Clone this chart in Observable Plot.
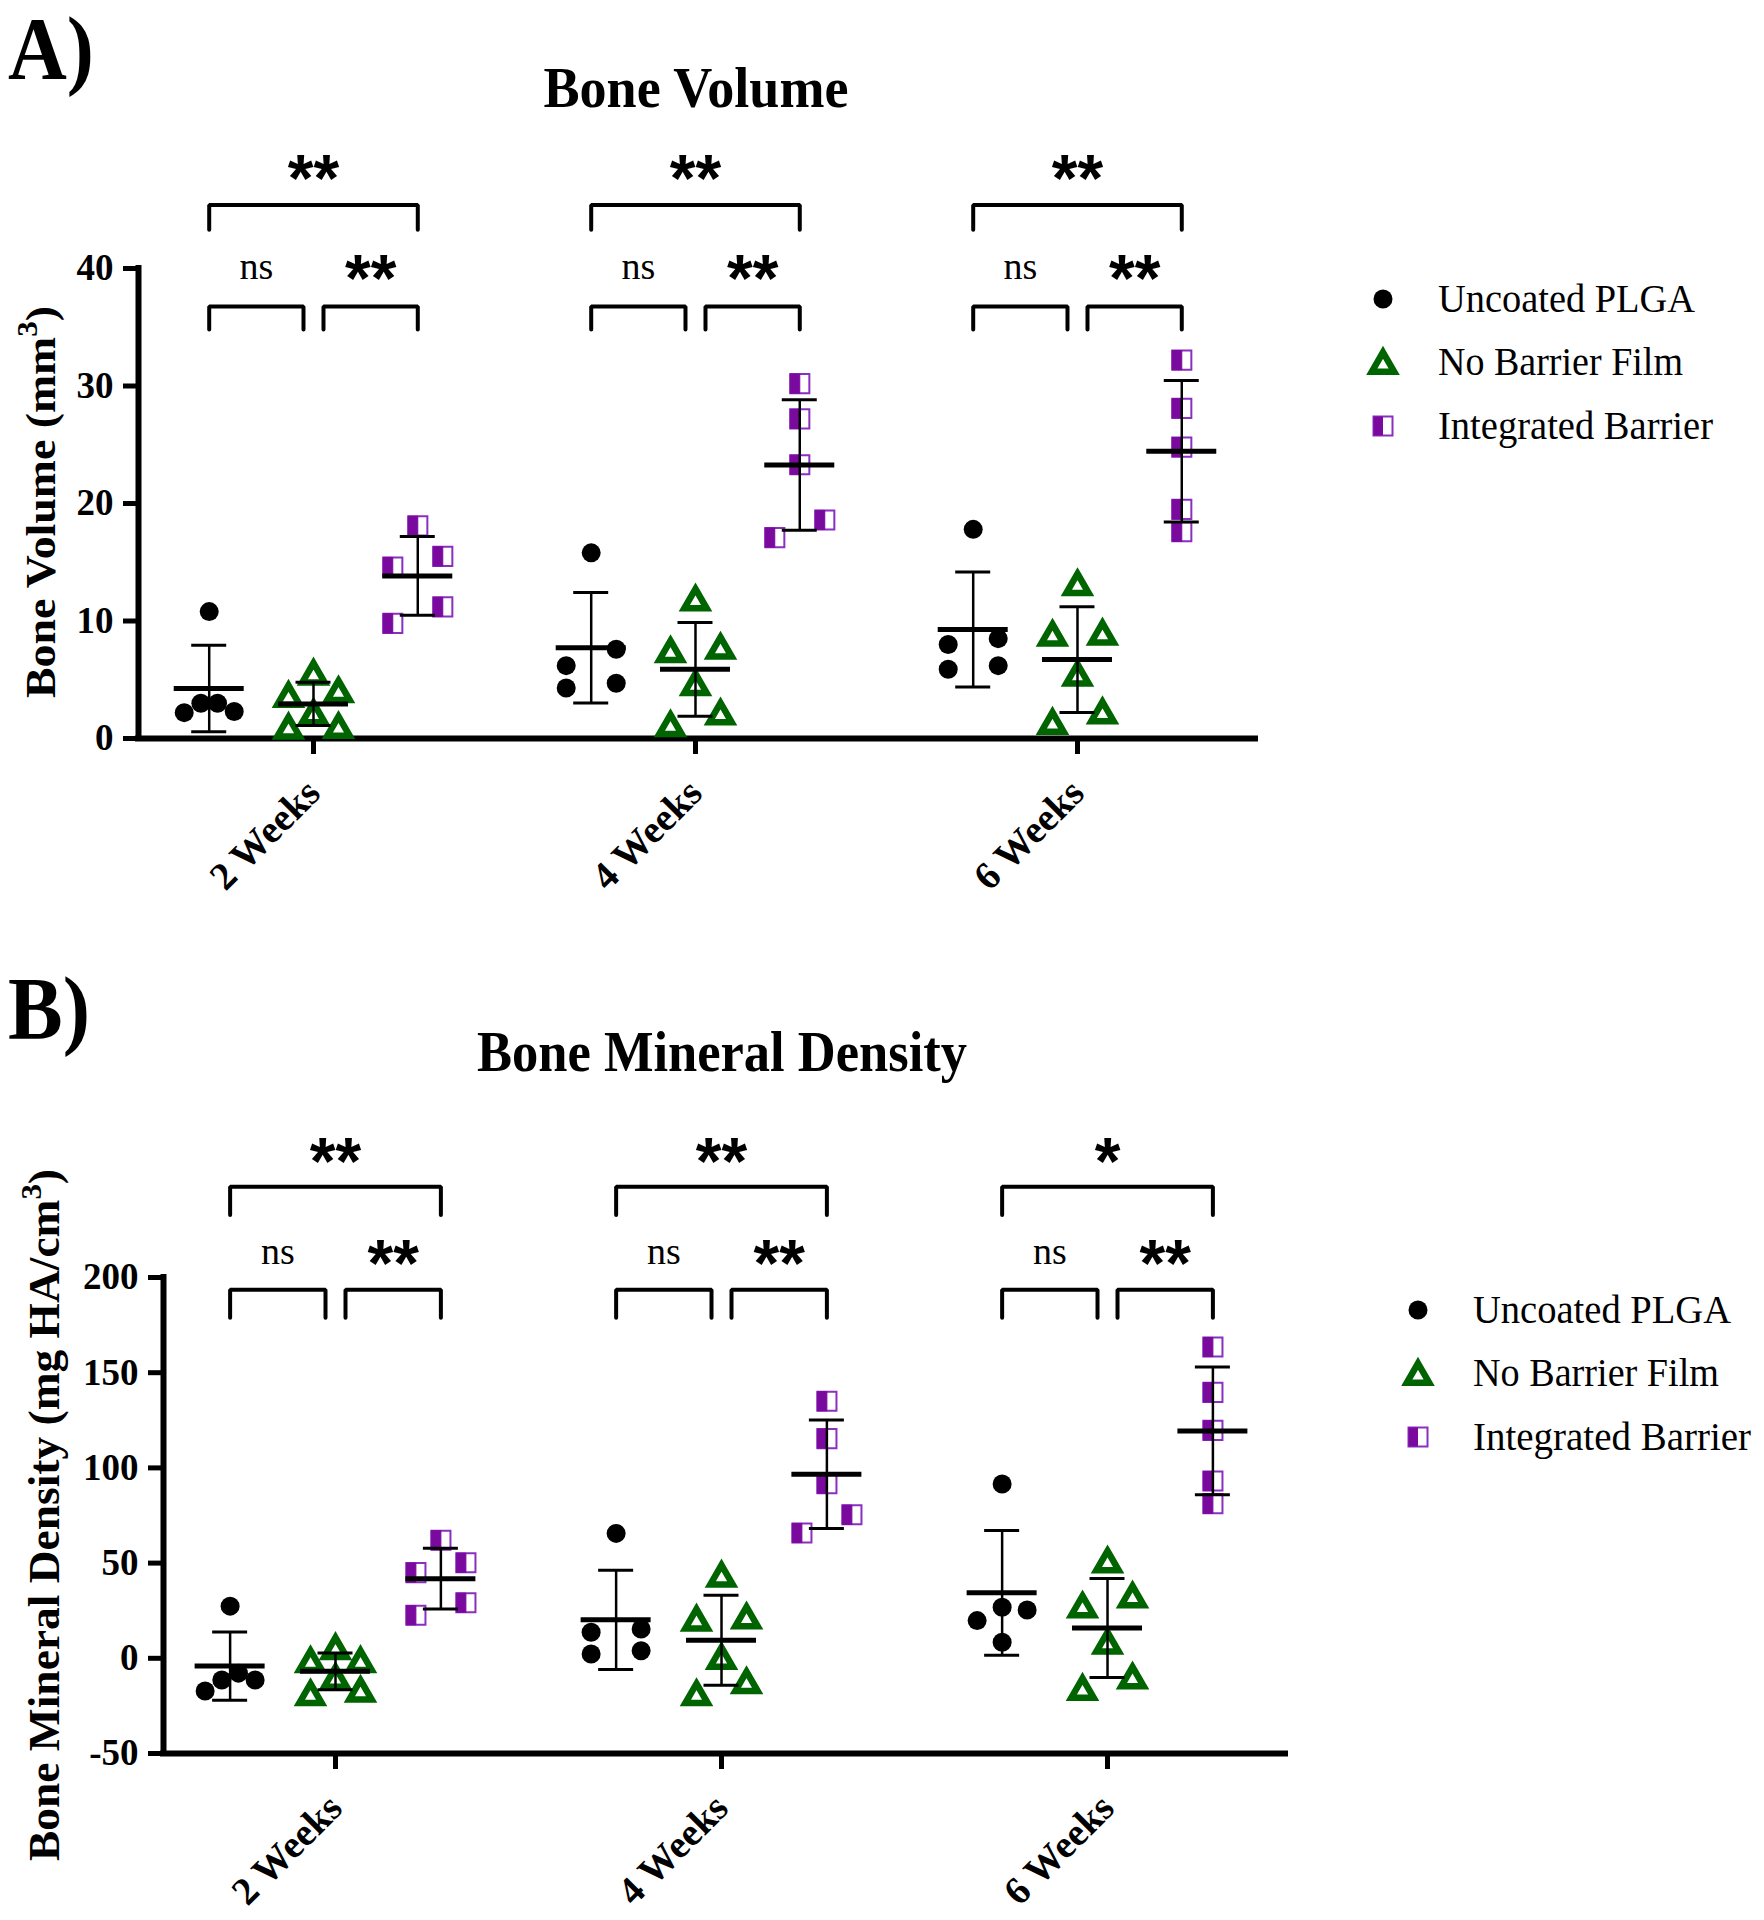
<!DOCTYPE html>
<html><head><meta charset="utf-8">
<script src="https://cdn.jsdelivr.net/npm/d3@7"></script>
<script src="https://cdn.jsdelivr.net/npm/@observablehq/plot@0.6"></script>
<style>
body{margin:0;background:#fff;}
#root{position:relative;width:1764px;height:1920px;overflow:hidden;background:#fff;}
#root svg{position:absolute;left:0;}
</style></head><body><div id="root"></div>
<script>
// ---------- data ----------
const weeks = ["2 Weeks", "4 Weeks", "6 Weeks"];
const groups = ["Uncoated PLGA", "No Barrier Film", "Integrated Barrier"];
const groupColors = ["#000000", "#006400", "#7A0A9E"];

// Bone Volume (mm3): one list per week
const bvUncoated   = [[10.8, 2.2, 3.0, 2.3, 3.0], [15.8, 7.6, 6.2, 4.3, 4.7], [17.8, 8.5, 8.0, 5.9, 6.2]];
const bvNoBarrier  = [[1.0, 4.1, 2.2, 5.6, 3.7, 1.05], [11.9, 7.8, 7.5, 4.7, 1.2, 2.2], [13.2, 9.0, 8.9, 5.5, 1.4, 2.3]];
const bvIntegrated = [[18.1, 14.6, 15.5, 11.2, 9.8], [30.2, 27.2, 23.3, 17.1, 18.6], [32.2, 28.1, 24.8, 19.5, 17.6]];

// Bone Mineral Density (mg HA/cm3)
const bmdUncoated   = [[27.4, -7.8, -17.2, -11.4, -11.4], [65.6, 13.7, 15.4, 2.3, 4.0], [91.5, 26.8, 25.4, 19.8, 8.4]];
const bmdNoBarrier  = [[-1.0, 5.8, -1.1, -9.8, -18.4, -16.6], [43.9, 21.9, 20.8, 0.7, -18.4, -12.1], [51.3, 32.9, 27.7, 8.6, -15.6, -9.6]];
const bmdIntegrated = [[62.0, 45.0, 50.2, 29.2, 22.6], [135.0, 115.4, 91.7, 75.4, 65.8], [163.5, 139.7, 119.7, 93.1, 81.2]];

// significance per week: [Uncoated vs Integrated, Uncoated vs No Barrier, No Barrier vs Integrated]
const bvStars  = [["**", "ns", "**"], ["**", "ns", "**"], ["**", "ns", "**"]];
const bmdStars = [["**", "ns", "**"], ["**", "ns", "**"], ["*", "ns", "**"]];

const bvTicks  = [0, 10, 20, 30, 40];
const bmdTicks = [-50, 0, 50, 100, 150, 200];

// ---------- helpers ----------
const SERIF = "Liberation Serif";
const halfSquare = {
  draw(ctx, size) {
    const w = Math.sqrt(size) / 2;
    ctx.moveTo(-w, -w); ctx.lineTo(0, -w); ctx.lineTo(0, w); ctx.lineTo(-w, w); ctx.closePath();
  }
};

// GraphPad-like spread: points whose values lie within a few pixels share a row
function clusterSlots(values, pxPerUnit, thresholdPx = 20) {
  const idx = d3.range(values.length).sort((a, b) => values[a] - values[b]);
  const out = new Array(values.length).fill(0);
  let i = 0;
  while (i < idx.length) {
    let j = i + 1;
    while (j < idx.length && (values[idx[j]] - values[idx[i]]) * pxPerUnit < thresholdPx) j++;
    const n = j - i;
    const pos = n === 1 ? [0] : d3.range(n).map(k => -1 + 2 * k / (n - 1));
    const order = [];
    let lo = 0, hi = n - 1;
    while (lo <= hi) { order.push(pos[lo]); if (hi !== lo) order.push(pos[hi]); lo++; hi--; }
    for (let k = 0; k < n; k++) out[idx[i + k]] = order[k];
    i = j;
  }
  return out;
}

function buildPanel(cfg) {
  const {series, stars, ticks, yDomain, top, height, width, marginLeft, marginRight, marginTop, marginBottom, xDomain, lv} = cfg;
  const pxX = (width - marginLeft - marginRight) / (xDomain[1] - xDomain[0]);
  const pxY = (height - marginTop - marginBottom) / (yDomain[1] - yDomain[0]);
  const sub = 0.273;
  const slotU = 25 / pxX;
  const pts = [], stats = [];
  series.forEach((arr, g) => arr.forEach((vals, w) => {
    const cx = w + (g - 1) * sub;
    const sl = clusterSlots(vals, pxY);
    vals.forEach((v, i) => pts.push({g, x: cx + sl[i] * slotU, y: v}));
    const m = d3.mean(vals), s = d3.deviation(vals);
    stats.push({g, x: cx, mean: m, lo: m - s, hi: m + s});
  }));
  const meanHalf = 35 / pxX, capHalf = 17.5 / pxX, gapU = 10 / pxX;
  const brackets = [];
  weeks.forEach((wk, w) => {
    const xs = [w - sub, w, w + sub];
    brackets.push({id: w * 3, x1: xs[0], x2: xs[2], line: lv.top, leg: lv.topLeg, ly: lv.topLabel, label: stars[w][0]});
    brackets.push({id: w * 3 + 1, x1: xs[0], x2: xs[1] - gapU, line: lv.low, leg: lv.lowLeg, ly: lv.lowLabel, label: stars[w][1]});
    brackets.push({id: w * 3 + 2, x1: xs[1] + gapU, x2: xs[2], line: lv.low, leg: lv.lowLeg, ly: lv.lowLabel, label: stars[w][2]});
  });
  const bracketPts = brackets.flatMap(b => [
    {id: b.id, x: b.x1, y: b.leg}, {id: b.id, x: b.x1, y: b.line},
    {id: b.id, x: b.x2, y: b.line}, {id: b.id, x: b.x2, y: b.leg}
  ]);
  const triR = 8.3;
  const svg = Plot.plot({
    width, height, marginLeft, marginRight, marginTop, marginBottom,
    style: {fontFamily: SERIF, background: "transparent", color: "black", overflow: "visible"},
    x: {domain: xDomain, axis: null},
    y: {domain: yDomain, axis: null},
    marks: [
      Plot.ruleX([xDomain[0]], {y1: yDomain[0], y2: yDomain[1], strokeWidth: 6, strokeLinecap: "square"}),
      Plot.ruleY([yDomain[0]], {x1: xDomain[0], x2: xDomain[1], strokeWidth: 6, strokeLinecap: "square"}),
      Plot.axisY({ticks, tickFormat: d => String(d), tickSize: 15, tickPadding: 10, strokeWidth: 5, fontSize: 37, fontWeight: "bold", fontFamily: SERIF, label: null}),
      Plot.axisX({ticks: [0, 1, 2], tickFormat: i => weeks[i], tickSize: 16, tickPadding: 32, tickRotate: -45, strokeWidth: 5, fontSize: 39, fontWeight: "bold", fontFamily: SERIF, label: null}),
      Plot.line(bracketPts, {x: "x", y: "y", z: "id", strokeWidth: 4, strokeLinejoin: "miter"}),
      Plot.text(brackets.filter(b => b.label !== "ns"), {x: d => (d.x1 + d.x2) / 2, y: "ly", text: "label", fontFamily: "Liberation Sans", fontWeight: "bold", fontSize: 66, dy: 11}),
      Plot.text(brackets.filter(b => b.label === "ns"), {x: d => (d.x1 + d.x2) / 2, y: "ly", text: "label", fontFamily: SERIF, fontSize: 38, dy: -2}),
      Plot.dot(pts.filter(d => d.g === 0), {x: "x", y: "y", r: 9.5, fill: groupColors[0], stroke: "none"}),
      Plot.dot(pts.filter(d => d.g === 1), {x: "x", y: "y", symbol: "triangle", r: triR, fill: "white", stroke: groupColors[1], strokeWidth: 6.5, dy: 0.7776 * triR / 2}),
      Plot.dot(pts.filter(d => d.g === 2), {x: "x", y: "y", symbol: "square", r: 10.8, fill: "white", stroke: "#8A2FC0", strokeWidth: 2}),
      Plot.dot(pts.filter(d => d.g === 2), {x: "x", y: "y", symbol: halfSquare, r: 10.8, fill: groupColors[2], stroke: groupColors[2], strokeWidth: 1}),
      Plot.ruleY(stats, {x1: d => d.x - meanHalf, x2: d => d.x + meanHalf, y: "mean", strokeWidth: 5}),
      Plot.ruleX(stats, {x: "x", y1: "lo", y2: "hi", strokeWidth: 2.5}),
      Plot.ruleY(stats, {x1: d => d.x - capHalf, x2: d => d.x + capHalf, y: "hi", strokeWidth: 3}),
      Plot.ruleY(stats, {x1: d => d.x - capHalf, x2: d => d.x + capHalf, y: "lo", strokeWidth: 3})
    ]
  });
  svg.style.top = top + "px";
  document.getElementById("root").appendChild(svg);
  // make sure every non-asterisk label uses the serif face
  d3.select(svg).selectAll("text").each(function () {
    if (!this.textContent.includes("*")) this.style.fontFamily = "'Liberation Serif', serif";
  });
}

buildPanel({
  series: [bvUncoated, bvNoBarrier, bvIntegrated], stars: bvStars, ticks: bvTicks,
  yDomain: [0, 40], top: 0, height: 900, width: 1300, marginLeft: 138, marginRight: 45, marginTop: 268, marginBottom: 162,
  xDomain: [-0.4581, 2.4660],
  lv: {topLabel: 48.5, top: 45.4, topLeg: 43.3, lowLabel: 40.0, low: 36.77, lowLeg: 34.8}
});
buildPanel({
  series: [bmdUncoated, bmdNoBarrier, bmdIntegrated], stars: bmdStars, ticks: bmdTicks,
  yDomain: [-50, 200], top: 980, height: 940, width: 1330, marginLeft: 163, marginRight: 45, marginTop: 297, marginBottom: 167,
  xDomain: [-0.4456, 2.4611],
  lv: {topLabel: 266, top: 247.6, topLeg: 232.8, lowLabel: 212.2, low: 193.6, lowLeg: 178.8}
});

// ---------- overlay: panel letters, titles, axis titles, legends ----------
const ov = d3.select("#root").append("svg").attr("width", 1764).attr("height", 1920).style("top", "0px")
  .style("font-family", "'Liberation Serif', serif");

function label(x, y, s, size, weight, anchor, len) {
  const t = ov.append("text").attr("x", x).attr("y", y).attr("font-size", size).attr("font-weight", weight)
    .attr("text-anchor", anchor).text(s);
  if (len) t.attr("textLength", len).attr("lengthAdjust", "spacingAndGlyphs");
  return t;
}
label(8, 78, "A)", 88, "bold", "start", 86);
label(8, 1038, "B)", 88, "bold", "start", 82);
label(696, 107, "Bone  Volume", 56, "bold", "middle", 305);
label(722, 1071, "Bone Mineral Density", 58, "bold", "middle", 490);

function yTitle(x, y, main, unitPre, size, len) {
  const t = ov.append("text").attr("transform", `translate(${x},${y}) rotate(-90)`)
    .attr("text-anchor", "middle").attr("font-size", size).attr("font-weight", "bold")
    .attr("textLength", len).attr("lengthAdjust", "spacingAndGlyphs");
  t.append("tspan").text(main + " (" + unitPre);
  t.append("tspan").attr("font-size", size * 0.68).attr("dy", -size * 0.42).text("3");
  t.append("tspan").attr("dy", size * 0.42).text(")");
}
yTitle(55, 502, "Bone  Volume", "mm", 43, 392);
yTitle(59, 1515, "Bone Mineral Density", "mg HA/cm", 44, 692);

function legend(mx, tx, ys, widths) {
  groups.forEach((g, i) => {
    const y = ys[i];
    if (i === 0) ov.append("circle").attr("cx", mx).attr("cy", y).attr("r", 9.5).attr("fill", groupColors[0]);
    if (i === 1) ov.append("path").attr("transform", `translate(${mx},${y + 3.2})`)
      .attr("d", d3.symbol(d3.symbolTriangle, 8.3 * 8.3 * Math.PI)()).attr("fill", "white")
      .attr("stroke", groupColors[1]).attr("stroke-width", 6.5);
    if (i === 2) {
      ov.append("rect").attr("x", mx - 9.5).attr("y", y - 9.5).attr("width", 19).attr("height", 19)
        .attr("fill", "white").attr("stroke", "#8A2FC0").attr("stroke-width", 2);
      ov.append("rect").attr("x", mx - 9.5).attr("y", y - 9.5).attr("width", 9.5).attr("height", 19).attr("fill", groupColors[2]);
    }
    label(tx, y + 13, g, 39, "normal", "start", widths[i]);
  });
}
legend(1383, 1438, [299, 362, 426], [257, 245, 275]);
legend(1418, 1473, [1310, 1373, 1437], [258, 246, 278]);
</script></body></html>
